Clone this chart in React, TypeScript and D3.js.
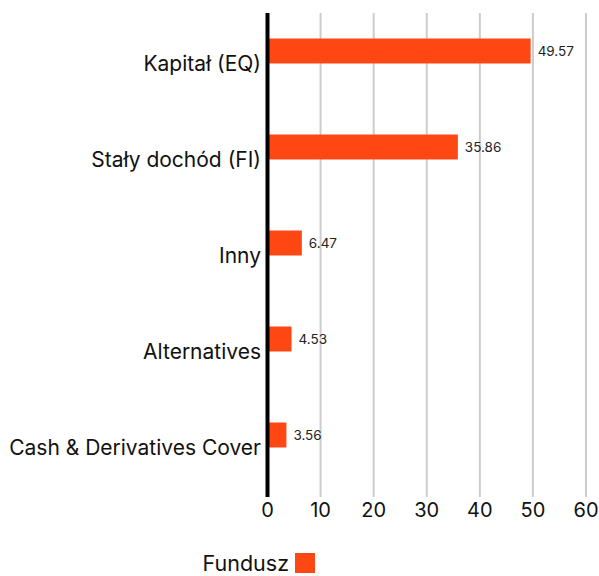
import { useRef, useEffect } from 'react';
import * as d3 from 'd3';

const categories = ['Kapitał (EQ)', 'Stały dochód (FI)', 'Inny', 'Alternatives', 'Cash & Derivatives Cover'];
const values = [49.57, 35.86, 6.47, 4.53, 3.56];
const xTicks = [0, 10, 20, 30, 40, 50, 60];
const seriesName = 'Fundusz';

export default function App() {
  const svgRef = useRef<SVGSVGElement>(null);
  const width = 599;
  const height = 576;

  useEffect(() => {
    const svg = d3.select(svgRef.current);
    if (svg.empty()) return;
    svg.selectAll('*').remove();

    const font = 'Inter, "Open Sans", sans-serif';
    const x0 = 267.5;
    const x1 = 586;
    const top = 13;
    const bottom = 497;

    const xScale = d3.scaleLinear().domain([0, 60]).range([x0, x1]);
    const yScale = d3.scaleBand<string>()
      .domain(categories)
      .range([3, 483])
      .paddingInner(0.74)
      .paddingOuter(0.37);

    // Gridlines
    svg.append('g')
      .selectAll('line')
      .data(xTicks.filter(t => t !== 0))
      .enter()
      .append('line')
      .attr('x1', d => xScale(d))
      .attr('x2', d => xScale(d))
      .attr('y1', top)
      .attr('y2', bottom)
      .attr('stroke', '#cccccc')
      .attr('stroke-width', 2);

    // Tick labels
    svg.append('g')
      .selectAll('text')
      .data(xTicks)
      .enter()
      .append('text')
      .attr('x', d => xScale(d))
      .attr('y', 517)
      .attr('text-anchor', 'middle')
      .attr('font-family', font)
      .attr('font-size', '20px')
      .attr('fill', '#111')
      .text(d => d);

    // Bars
    svg.append('g')
      .selectAll('rect')
      .data(values)
      .enter()
      .append('rect')
      .attr('x', xScale(0))
      .attr('y', (_, i) => yScale(categories[i])!)
      .attr('width', d => xScale(d) - xScale(0))
      .attr('height', yScale.bandwidth())
      .attr('fill', '#ff4713');

    // Value labels
    svg.append('g')
      .selectAll('text')
      .data(values)
      .enter()
      .append('text')
      .attr('x', d => xScale(d) + 7)
      .attr('y', (_, i) => yScale(categories[i])! + yScale.bandwidth() / 2 + 5)
      .attr('font-family', font)
      .attr('font-size', '13.5px')
      .attr('fill', '#222')
      .text(d => d.toFixed(2));

    // Category labels
    svg.append('g')
      .selectAll('text')
      .data(categories)
      .enter()
      .append('text')
      .attr('x', 261)
      .attr('y', d => yScale(d)! + yScale.bandwidth() / 2 + 20)
      .attr('text-anchor', 'end')
      .attr('font-family', font)
      .attr('font-size', '21px')
      .attr('fill', '#111')
      .text(d => d);

    // Zero axis
    svg.append('line')
      .attr('x1', xScale(0))
      .attr('x2', xScale(0))
      .attr('y1', top)
      .attr('y2', bottom)
      .attr('stroke', '#000')
      .attr('stroke-width', 4);

    // Legend
    svg.append('text')
      .attr('x', 289)
      .attr('y', 571)
      .attr('text-anchor', 'end')
      .attr('font-family', font)
      .attr('font-size', '21.5px')
      .attr('fill', '#111')
      .text(seriesName);
    svg.append('rect')
      .attr('x', 295)
      .attr('y', 553)
      .attr('width', 20)
      .attr('height', 20)
      .attr('fill', '#ff4713');
  }, []);

  return (
    <svg
      ref={svgRef}
      width={width}
      height={height}
      style={{ position: 'absolute', left: 0, top: 0, background: '#fff' }}
    />
  );
}
